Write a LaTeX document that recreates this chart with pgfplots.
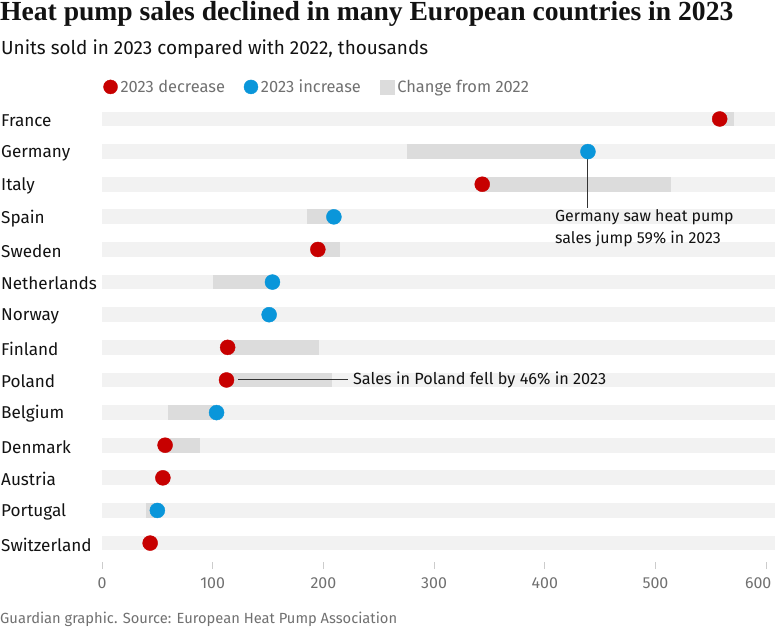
\documentclass[border=0pt]{standalone}
\usepackage{fontspec}
\setmainfont{Fira Sans}
\newfontfamily\titlefont{Liberation Serif}
\usepackage{pgfplots}
\usepackage{pgfplotstable}
\pgfplotsset{compat=1.18}
\definecolor{cred}{HTML}{C70000}
\definecolor{cblue}{HTML}{0A96DA}
\definecolor{bggray}{HTML}{F2F2F2}
\definecolor{chgray}{HTML}{DCDCDC}
\definecolor{txt}{HTML}{121212}
\definecolor{subtxt}{HTML}{707070}
\definecolor{tickgray}{HTML}{CCCCCC}
\definecolor{annot}{HTML}{333333}

\pgfplotstableread{
row v2022 v2023 dir
0 571 558 dec
1 275.5 439 inc
2 514 343.5 dec
3 185 209.5 inc
4 215 195 dec
5 100 154 inc
6 149 151 inc
7 196 113.5 dec
8 208 112.5 dec
9 60 103.5 inc
10 88.5 57 dec
11 56 55 dec
12 40 50 inc
13 44 43.5 dec
}\data

\begin{document}
\begin{tikzpicture}
\path[use as bounding box] (0,0) rectangle (775bp,628bp);
\node[anchor=west, inner sep=0, font=\titlefont\bfseries\fontsize{27.7}{30}\selectfont, text=txt] at (0bp,614bp) {Heat pump sales declined in many European countries in 2023};
\node[anchor=west, inner sep=0, font=\fontsize{19}{22}\selectfont, text=txt] at (1bp,579bp) {Units sold in 2023 compared with 2022, thousands};
\node[anchor=west, inner sep=0, font=\fontsize{14.75}{17}\selectfont, text=subtxt] at (0bp,8.5bp) {Guardian graphic. Source: European Heat Pump Association};
\begin{axis}[
  at={(102bp,66bp)}, anchor=south west, scale only axis,
  width=673bp, height=462.6bp,
  xmin=0, xmax=608, ymin=-0.6, ymax=13.58, y dir=reverse,
  axis line style={draw=none},
  clip=false,
  xtick={0,100,...,500}, xtick pos=bottom, tick align=outside,
  extra x ticks={600},
  extra x tick style={xticklabel style={xshift=-8bp}},
  major tick length=7bp,
  x tick style={draw=tickgray, line width=1bp},
  ytick={0,...,13},
  yticklabels={France,Germany,Italy,Spain,Sweden,Netherlands,Norway,Finland,Poland,Belgium,Denmark,Austria,Portugal,Switzerland},
  y tick style={draw=none},
  yticklabel style={anchor=west, inner sep=0pt, xshift=-94bp, yshift=-1.5bp, font=\fontsize{17.2}{20}\selectfont, text=txt},
  xticklabel style={font=\fontsize{16}{19}\selectfont, text=subtxt, yshift=-5bp},
  /pgf/number format/assume math mode=true,
  legend style={at={(0.002,1.027)}, anchor=west, draw=none, fill=none, inner sep=0pt,
    legend columns=-1, font=\fontsize{16.5}{19}\selectfont, text=subtxt,
    nodes={inner sep=0pt},
    /tikz/every odd column/.append style={column sep=3bp},
    /tikz/every even column/.append style={column sep=19bp}},
]
\addlegendimage{only marks, mark=*, mark size=7bp, cred, legend image code/.code={\draw[mark repeat=1] plot coordinates {(7bp,0bp)};}}
\addlegendentry{2023 decrease}
\addlegendimage{only marks, mark=*, mark size=7bp, cblue, legend image code/.code={\draw[mark repeat=1] plot coordinates {(7bp,0bp)};}}
\addlegendentry{2023 increase}
\addlegendimage{legend image code/.code={\fill[chgray] (0bp,-7bp) rectangle (14bp,7bp);}}
\addlegendentry{Change from 2022}

% background tracks
\addplot[forget plot, only marks, mark=none, mark size=0pt,
  mark options={draw opacity=0, fill opacity=0},
  error bars/.cd, x dir=plus, x explicit, error mark=none,
  error bar style={line width=14.7bp, color=bggray}]
  table[x expr=0, y=row, x error expr=608] {\data};
% change bars
\addplot[forget plot, only marks, mark=none, mark size=0pt,
  mark options={draw opacity=0, fill opacity=0},
  error bars/.cd, x dir=plus, x explicit, error mark=none,
  error bar style={line width=14.7bp, color=chgray}]
  table[x expr={min(\thisrow{v2022},\thisrow{v2023})}, y=row,
        x error expr={abs(\thisrow{v2022}-\thisrow{v2023})}] {\data};
% dots
\addplot[forget plot, scatter, only marks, mark=*, mark size=7.5bp,
  scatter src=explicit symbolic,
  scatter/classes={dec={mark=*, draw=cred, fill=cred}, inc={mark=*, draw=cblue, fill=cblue}}]
  table[x=v2023, y=row, meta=dir] {\data};

% annotations
\draw[annot, line width=1bp] (axis cs:439,1.23) -- (axis cs:439,2.73);
\node[anchor=north west, inner sep=0pt, align=left, text=txt,
  font=\fontsize{16}{22}\selectfont] at (axis cs:409.2,2.77)
  {Germany saw heat pump\\sales jump 59\% in 2023};
\draw[annot, line width=1bp] (axis cs:123,8) -- (axis cs:222,8);
\node[anchor=west, inner sep=0pt, text=txt, font=\fontsize{16.3}{19}\selectfont]
  at (axis cs:226.7,8) {Sales in Poland fell by 46\% in 2023};
\end{axis}
\end{tikzpicture}
\end{document}
